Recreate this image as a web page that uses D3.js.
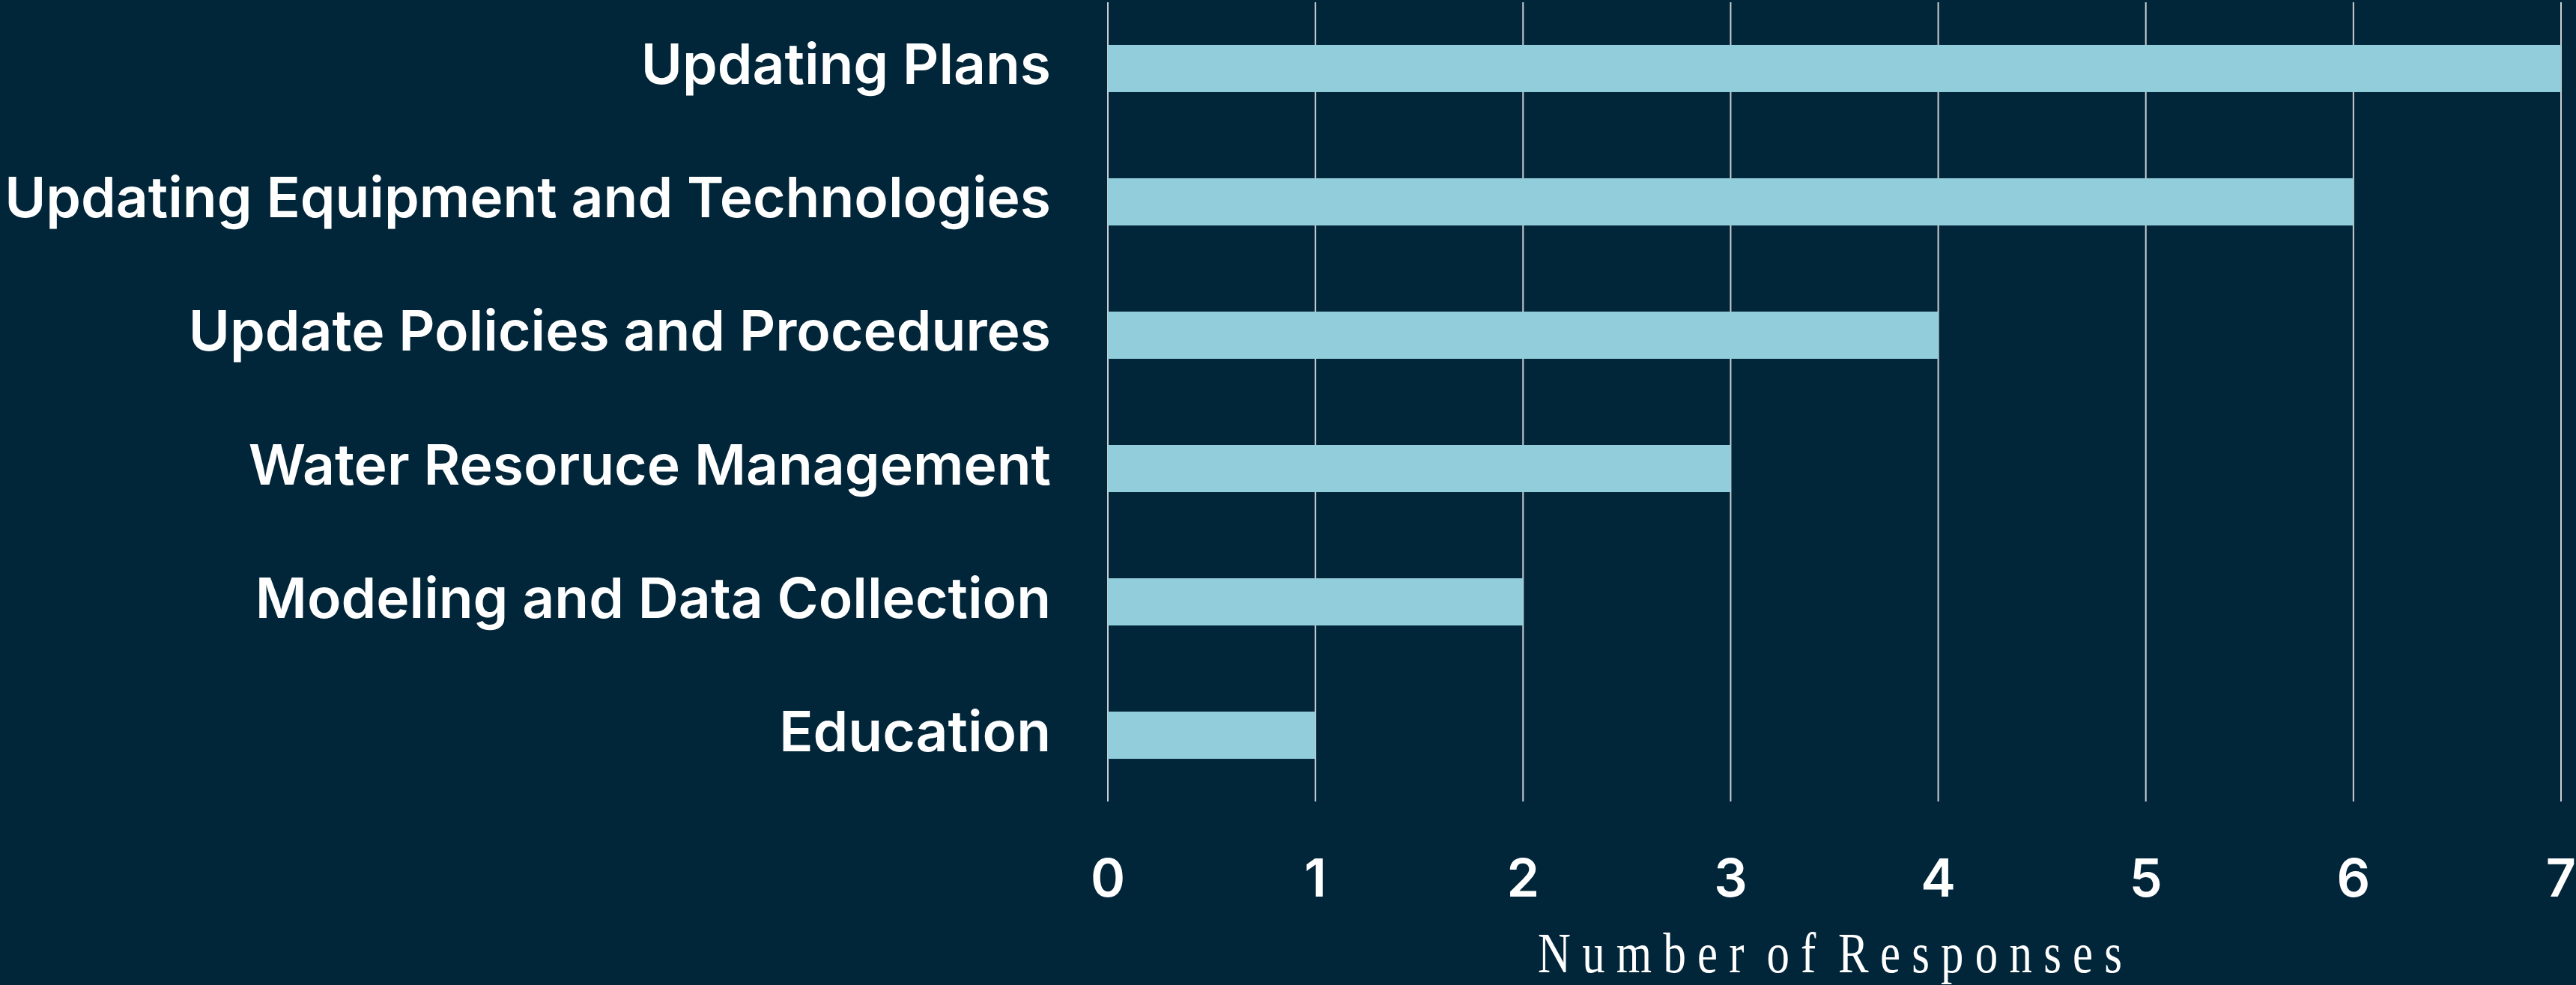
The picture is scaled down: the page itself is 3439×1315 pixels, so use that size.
<!DOCTYPE html>
<html lang="en">
<head>
    <meta charset="UTF-8">
    <title>Number of Responses</title>
    <script src="https://d3js.org/d3.v7.min.js"></script>
    <style>
        html, body {
            margin: 0;
            padding: 0;
            background: #022639;
        }
        svg {
            display: block;
        }
    </style>
</head>
<body>
    <div id="chart"></div>

    <script>
        // Data
        const categories = [
            "Updating Plans",
            "Updating Equipment and Technologies",
            "Update Policies and Procedures",
            "Water Resoruce Management",
            "Modeling and Data Collection",
            "Education"
        ];
        const responses = [7, 6, 4, 3, 2, 1];
        const tickValues = [0, 1, 2, 3, 4, 5, 6, 7];
        const axisTitle = "Number of Responses";

        const width = 3439, height = 1315;
        const margin = { left: 1479, right: 20, top: 3, bottom: 245 };
        const labelFont = "Inter, 'Noto Sans', sans-serif";

        const svg = d3.select("#chart")
            .append("svg")
            .attr("width", width)
            .attr("height", height);

        svg.append("rect")
            .attr("width", width)
            .attr("height", height)
            .attr("fill", "#022639");

        const x = d3.scaleLinear()
            .domain([0, 7])
            .range([margin.left, width - margin.right]);

        const y = d3.scaleBand()
            .domain(categories)
            .range([margin.top, height - margin.bottom])
            .paddingInner(0.646)
            .paddingOuter(0.32);

        // Gridlines
        svg.append("g")
            .selectAll("line")
            .data(tickValues)
            .join("line")
            .attr("x1", d => x(d))
            .attr("x2", d => x(d))
            .attr("y1", margin.top)
            .attr("y2", height - margin.bottom)
            .attr("stroke", "#c9ced2")
            .attr("stroke-width", 2);

        // Bars
        svg.append("g")
            .selectAll("rect")
            .data(categories)
            .join("rect")
            .attr("x", x(0))
            .attr("y", d => y(d))
            .attr("width", (d, i) => x(responses[i]) - x(0))
            .attr("height", y.bandwidth())
            .attr("fill", "#92cddc");

        // Category labels - size chosen so the longest one fits the left margin
        const labels = svg.append("g")
            .selectAll("text")
            .data(categories)
            .join("text")
            .attr("x", x(0) - 76)
            .attr("y", d => y(d) + y.bandwidth() / 2 + 21)
            .attr("text-anchor", "end")
            .attr("fill", "#ffffff")
            .attr("font-family", labelFont)
            .attr("font-weight", 600)
            .attr("font-size", 100)
            .text(d => d);

        let longest = 0;
        labels.each(function () {
            longest = Math.max(longest, this.getComputedTextLength());
        });
        const labelSize = 100 * 1397 / longest;
        labels.attr("font-size", labelSize);

        // Tick labels
        svg.append("g")
            .selectAll("text")
            .data(tickValues)
            .join("text")
            .attr("x", d => x(d))
            .attr("y", 1197)
            .attr("text-anchor", "middle")
            .attr("fill", "#ffffff")
            .attr("font-family", labelFont)
            .attr("font-weight", 600)
            .attr("font-size", 70)
            .text(d => d);

        // Axis title: condensed serif, stretched with letter spacing
        const squeeze = 0.8;
        const titleX = (x(0) + x(7)) / 2 - 6;
        svg.append("text")
            .attr("transform", `scale(${squeeze},1)`)
            .attr("x", titleX / squeeze)
            .attr("y", 1298)
            .attr("text-anchor", "middle")
            .attr("fill", "#ffffff")
            .attr("font-family", "'Liberation Serif', serif")
            .attr("font-size", 76)
            .attr("word-spacing", -20)
            .attr("textLength", 780 / squeeze)
            .attr("lengthAdjust", "spacing")
            .text(axisTitle);
    </script>
</body>
</html>
